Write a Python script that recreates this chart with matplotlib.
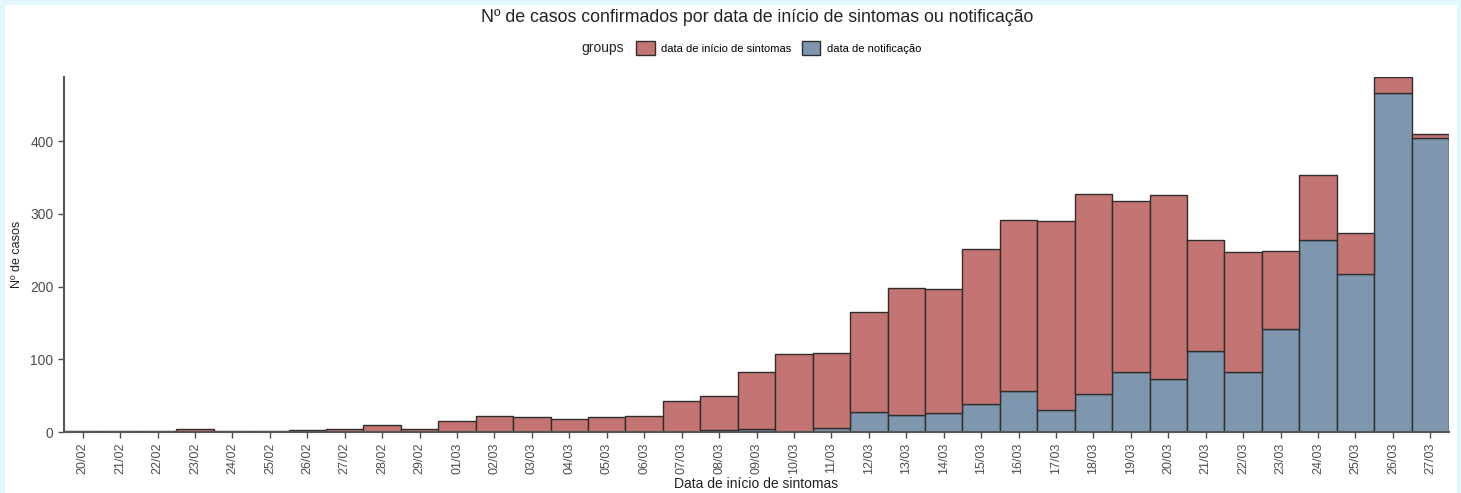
import matplotlib.pyplot as plt
from matplotlib.patches import Rectangle, Patch

plt.rcParams['font.family'] = ['Liberation Sans', 'DejaVu Sans']

# dates (symptom onset / notification)
datas = ['20/02', '21/02', '22/02', '23/02', '24/02', '25/02', '26/02', '27/02', '28/02', '29/02',
         '01/03', '02/03', '03/03', '04/03', '05/03', '06/03', '07/03', '08/03', '09/03', '10/03',
         '11/03', '12/03', '13/03', '14/03', '15/03', '16/03', '17/03', '18/03', '19/03', '20/03',
         '21/03', '22/03', '23/03', '24/03', '25/03', '26/03', '27/03']

# cases by notification date (bottom, blue)
notificacao = [0, 0, 0, 0, 0, 0, 0, 0, 0, 0,
               0, 0, 0, 0, 0, 0, 0, 3, 4, 0,
               6, 27, 24, 26, 39, 57, 30, 52, 82, 73,
               111, 82, 142, 264, 217, 466, 404]

# cases by symptom onset date (stacked on top, red)
sintomas = [1, 2, 2, 4, 1, 1, 3, 4, 10, 4,
            15, 22, 21, 18, 21, 22, 42, 46, 78, 107,
            103, 138, 174, 171, 213, 234, 260, 275, 236, 253,
            153, 166, 107, 89, 56, 22, 6]

cor_sint = '#c47472'
cor_notif = '#7f97ae'
borda = '#2e2e2e'

W, H = 1461, 493
fig = plt.figure(figsize=(W / 100, H / 100), dpi=100, facecolor='#e1f7fc')
fig.patches.append(Rectangle((5 / W, 0), 1452 / W, 488 / H, transform=fig.transFigure,
                             facecolor='white', edgecolor='none', zorder=-10))

ax = fig.add_axes([64 / W, (H - 432) / H, (1449 - 64) / W, (432 - 77) / H])
ax.set_facecolor('white')

x = list(range(len(datas)))
ax.bar(x, notificacao, width=1.0, color=cor_notif, edgecolor=borda, linewidth=1.0)
ax.bar(x, sintomas, width=1.0, bottom=notificacao, color=cor_sint, edgecolor=borda, linewidth=1.0)

totais = [a + b for a, b in zip(notificacao, sintomas)]
ax.set_xlim(-0.5, len(datas) - 0.5)
ax.set_ylim(0, max(totais))

ax.set_xticks(x)
ax.set_xticklabels(datas, rotation=90, fontsize=9, color='#4d4d4d')
ax.set_yticks([0, 100, 200, 300, 400])
ax.tick_params(axis='y', labelsize=10, colors='#4d4d4d', length=4, width=1)
ax.tick_params(axis='x', length=4, width=1, colors='#4d4d4d')
for lab in ax.get_xticklabels():
    lab.set_color('#4d4d4d')

for side in ['top', 'right']:
    ax.spines[side].set_visible(False)
for side in ['left', 'bottom']:
    ax.spines[side].set_color('#555555')
    ax.spines[side].set_linewidth(1.5)

ax.set_xlabel('Data de início de sintomas', fontsize=10, color='#222222', labelpad=2)
ax.set_ylabel('Nº de casos', fontsize=9, color='#222222', labelpad=5)

fig.text(757 / W, (H - 17) / H, 'Nº de casos confirmados por data de início de sintomas ou notificação',
         ha='center', va='center', fontsize=12.8, color='#222222')

fig.text(603 / W, (H - 48) / H, 'groups', ha='center', va='center', fontsize=10, color='#222222')
handles = [Patch(facecolor=cor_sint, edgecolor=borda, linewidth=1.0),
           Patch(facecolor=cor_notif, edgecolor=borda, linewidth=1.0)]
fig.legend(handles, ['data de início de sintomas', 'data de notificação'],
           loc='center left', bbox_to_anchor=(628 / W, (H - 48) / H), ncol=2, frameon=False,
           fontsize=8, handlelength=1.7, handleheight=1.6, handletextpad=0.6, columnspacing=0.9,
           borderpad=0.2)

fig.savefig('out.png', dpi=100, facecolor=fig.get_facecolor())
